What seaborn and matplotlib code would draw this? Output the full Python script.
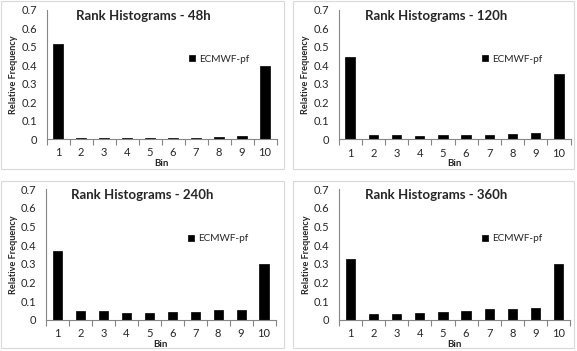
import matplotlib
matplotlib.use("Agg")
import matplotlib.pyplot as plt
import seaborn as sns
import pandas as pd
from matplotlib.patches import Rectangle
from matplotlib.ticker import FixedLocator, FixedFormatter

# data
bins = [str(i) for i in range(1, 11)]
lead_times = ["48h", "120h", "240h", "360h"]
freq_48h = [0.518, 0.005, 0.005, 0.003, 0.005, 0.005, 0.005, 0.012, 0.018, 0.395]
freq_120h = [0.445, 0.023, 0.023, 0.020, 0.023, 0.023, 0.023, 0.027, 0.034, 0.355]
freq_240h = [0.370, 0.045, 0.045, 0.036, 0.038, 0.041, 0.041, 0.052, 0.052, 0.300]
freq_360h = [0.328, 0.032, 0.032, 0.036, 0.041, 0.047, 0.055, 0.055, 0.063, 0.297]
series_name = "ECMWF-pf"
ytick_vals = [0, 0.1, 0.2, 0.3, 0.4, 0.5, 0.6, 0.7]
ytick_labels = ["0", "0.1", "0.2", "0.3", "0.4", "0.5", "0.6", "0.7"]

all_freq = [freq_48h, freq_120h, freq_240h, freq_360h]

sns.set_style("white")
plt.rcParams["font.family"] = ["Lato", "DejaVu Sans"]

W, H = 577, 351
fig = plt.figure(figsize=(W / 100, H / 100), dpi=100)

# panel frames (pixels: x0, y0 top, x1, y1)
frames = [(1, 1, 284, 169), (293, 1, 574, 169), (1, 181, 284, 348), (293, 181, 574, 348)]
# plot areas (pixels: left, right, top(0.7), bottom(0))
areas = [(46.5, 276.5, 10, 139), (338.5, 570.5, 10, 139.3),
         (46.2, 275.5, 189.3, 319.7), (339, 570, 189.3, 319.7)]

gray = "#868686"

for fr in frames:
    x0, y0, x1, y1 = fr
    fig.patches.append(Rectangle((x0 / W, 1 - y1 / H), (x1 - x0) / W, (y1 - y0) / H,
                                 transform=fig.transFigure, fill=False,
                                 edgecolor="#d9d9d9", linewidth=0.8))

for k, (lt, vals) in enumerate(zip(lead_times, all_freq)):
    l, r, t, b = areas[k]
    ax = fig.add_axes([l / W, 1 - b / H, (r - l) / W, (b - t) / H])
    df = pd.DataFrame({"Bin": bins, "freq": vals})
    sns.barplot(data=df, x="Bin", y="freq", color="black", width=0.4,
                saturation=1, edgecolor="black", linewidth=0.5,
                label=series_name, ax=ax)
    ax.set_xlim(-0.5, 9.5)
    ax.set_ylim(0, 0.7)
    ax.yaxis.set_major_locator(FixedLocator(ytick_vals))
    ax.yaxis.set_major_formatter(FixedFormatter(ytick_labels))
    ax.xaxis.set_minor_locator(FixedLocator([i - 0.5 for i in range(11)]))
    ax.tick_params(axis="x", which="major", length=0, labelsize=8, pad=6,
                   labelcolor="#262626")
    ax.tick_params(axis="x", which="minor", length=4, color=gray, width=0.8)
    ax.tick_params(axis="y", length=4, color=gray, width=0.8, labelsize=8,
                   pad=3, labelcolor="#262626")
    ax.tick_params(axis="x", which="minor", bottom=True)
    for s in ["top", "right"]:
        ax.spines[s].set_visible(False)
    for s in ["left", "bottom"]:
        ax.spines[s].set_color(gray)
        ax.spines[s].set_linewidth(0.8)
    ax.set_xlabel("Bin", fontsize=7, fontweight="bold", labelpad=0.5)
    ax.set_ylabel("Relative Frequency", fontsize=6.6, fontweight="bold", labelpad=2)
    ax.text(0.42, 0.955, "Rank Histograms - " + lt, transform=ax.transAxes,
            ha="center", va="center", fontsize=9.5, fontweight="bold")
    ax.legend(loc="center left", bbox_to_anchor=(0.62, 0.62), frameon=False,
              fontsize=7.2, handlelength=0.6, handleheight=0.6, handletextpad=0.4,
              borderpad=0, borderaxespad=0)

fig.savefig("out.png", dpi=100)
